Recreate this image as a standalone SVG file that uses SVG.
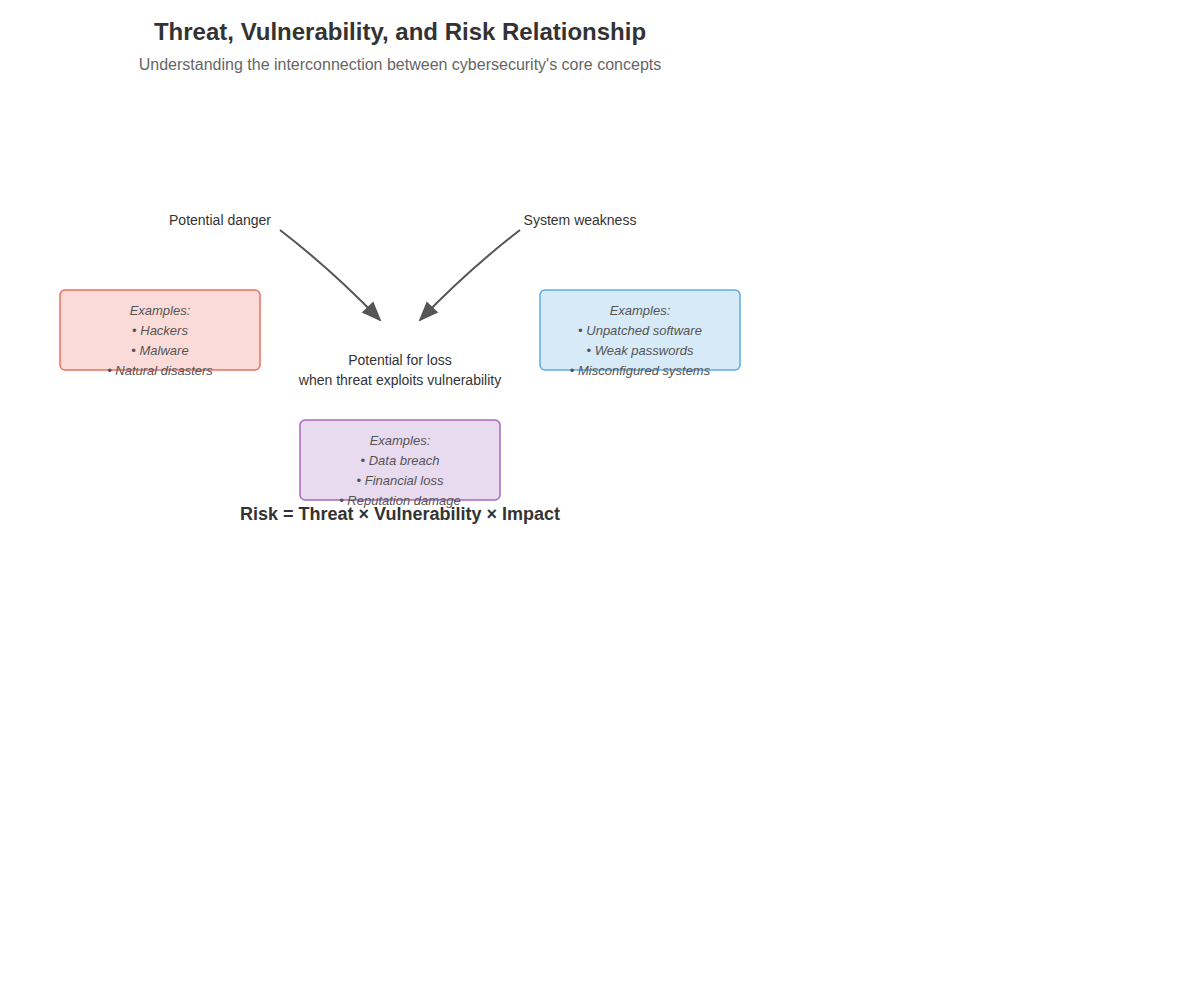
<svg xmlns="http://www.w3.org/2000/svg" width="1200" height="1000" viewBox="0 0 1200 1000">
<style>
.title{font-family:"Liberation Sans",Arial,sans-serif;font-size:24px;font-weight:bold;fill:#333;text-anchor:middle}
.sub{font-family:"Liberation Sans",Arial,sans-serif;font-size:16px;fill:#666;text-anchor:middle}
.lbl{font-family:"Liberation Sans",Arial,sans-serif;font-size:14px;fill:#333;text-anchor:middle}
.ex{font-family:"Liberation Sans",Arial,sans-serif;font-size:13px;font-style:italic;fill:#555;text-anchor:middle}
.formula{font-family:"Liberation Sans",Arial,sans-serif;font-size:18px;font-weight:bold;fill:#333;text-anchor:middle}
.conn{fill:none;stroke:#555;stroke-width:2}
</style>
<defs>
<marker id="arr" markerWidth="10" markerHeight="8" refX="9" refY="4" orient="auto" markerUnits="strokeWidth" overflow="visible">
<path d="M0,0 L10,4 L0,8 Z" fill="#555"/>
</marker>
</defs>
<rect width="1200" height="1000" fill="#fff"/>
<text class="title" x="400" y="40">Threat, Vulnerability, and Risk Relationship</text>
<text class="sub" x="400" y="70">Understanding the interconnection between cybersecurity's core concepts</text>
<g id="threat">
<text class="lbl" x="220" y="225">Potential danger</text>
</g>
<g id="vulnerability">
<text class="lbl" x="580" y="225">System weakness</text>
</g>
<g id="risk">
<text class="lbl" x="400" y="365">Potential for loss</text>
<text class="lbl" x="400" y="385">when threat exploits vulnerability</text>
</g>
<g id="threat-examples">
<rect x="60" y="290" width="200" height="80" rx="5" fill="#fadbd8" stroke="#ec7063" stroke-width="1.5"/>
<text class="ex" x="160" y="315">Examples:</text>
<text class="ex" x="160" y="335">• Hackers</text>
<text class="ex" x="160" y="355">• Malware</text>
<text class="ex" x="160" y="375">• Natural disasters</text>
</g>
<g id="vulnerability-examples">
<rect x="540" y="290" width="200" height="80" rx="5" fill="#d6eaf8" stroke="#5dade2" stroke-width="1.5"/>
<text class="ex" x="640" y="315">Examples:</text>
<text class="ex" x="640" y="335">• Unpatched software</text>
<text class="ex" x="640" y="355">• Weak passwords</text>
<text class="ex" x="640" y="375">• Misconfigured systems</text>
</g>
<g id="risk-examples">
<rect x="300" y="420" width="200" height="80" rx="5" fill="#e8daef" stroke="#a569bd" stroke-width="1.5"/>
<text class="ex" x="400" y="445">Examples:</text>
<text class="ex" x="400" y="465">• Data breach</text>
<text class="ex" x="400" y="485">• Financial loss</text>
<text class="ex" x="400" y="505">• Reputation damage</text>
</g>
<g id="formula">
<text class="formula" x="400" y="520">Risk = Threat × Vulnerability × Impact</text>
</g>
<g id="connectors">
<path class="conn" d="M280,230 Q332,270 380,320" marker-end="url(#arr)"/>
<path class="conn" d="M520,230 Q468,270 420,320" marker-end="url(#arr)"/>
</g>
</svg>
